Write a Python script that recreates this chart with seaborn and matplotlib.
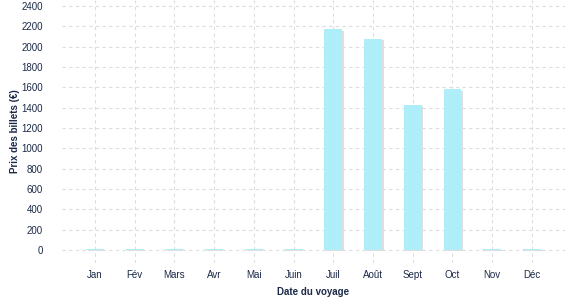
import matplotlib
matplotlib.use("Agg")
import matplotlib.pyplot as plt
import matplotlib.patheffects as pe
import seaborn as sns
import pandas as pd

months = ["Jan", "Fév", "Mars", "Avr", "Mai", "Juin", "Juil", "Août", "Sept", "Oct", "Nov", "Déc"]
prices = [12, 12, 12, 12, 12, 12, 2170, 2080, 1430, 1580, 12, 12]
yticks = [0, 200, 400, 600, 800, 1000, 1200, 1400, 1600, 1800, 2000, 2200, 2400]

df = pd.DataFrame({"Mois": months, "Prix": prices})

sns.set_theme(style="white")
plt.rcParams['font.family'] = ['Liberation Sans', 'DejaVu Sans']
txt = "#1c2a48"

fig = plt.figure(figsize=(5.77, 3.0), dpi=100)
ax = fig.add_axes([0.1075, 0.123, 0.8715, 0.877])
sns.barplot(data=df, x="Mois", y="Prix", color="#aeeef8", width=0.45, ax=ax,
            saturation=1, zorder=3, linewidth=0, edgecolor="none")
for p in ax.patches:
    p.set_path_effects([pe.SimplePatchShadow(offset=(1.2, -0.8), shadow_rgbFace="#dedede", alpha=1), pe.Normal()])

ax.set_xlim(-0.83, 11.83)
ax.set_ylim(-128, 2460)
ax.set_yticks(yticks)
ax.grid(True, color="#dddddd", linestyle=(0, (3, 3)), linewidth=0.8, zorder=0)
ax.set_axisbelow(True)
for s in ax.spines.values():
    s.set_visible(False)
ax.tick_params(axis="both", length=0, labelsize=7, labelcolor=txt)
ax.tick_params(axis="y", pad=14)
ax.tick_params(axis="x", pad=5)
ax.set_xlabel("Date du voyage", fontsize=7, fontweight="bold", color=txt, labelpad=5)
ax.set_ylabel("Prix des billets (€)", fontsize=7, fontweight="bold", color=txt, labelpad=1)
for lbl in ax.get_yticklabels():
    lbl.set_horizontalalignment("right")

fig.savefig("out.png", dpi=100)
